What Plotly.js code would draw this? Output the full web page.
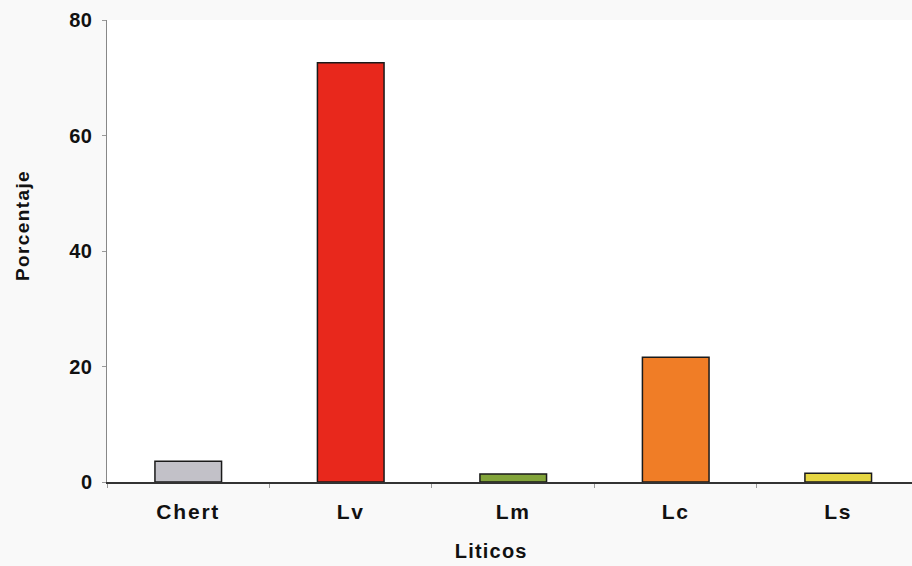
<!DOCTYPE html>
<html>
<head>
<meta charset="utf-8">
<script src="https://cdn.plot.ly/plotly-3.0.1.min.js"></script>
<style>
html,body{margin:0;padding:0;background:#f9f9f9;}
#chart{width:912px;height:566px;}
.xtick text{letter-spacing:1.8px;}
.ytick text{letter-spacing:0.5px;}
.annotation-text.xt{letter-spacing:1.2px;}
.annotation-text.yt{letter-spacing:1.4px;}
</style>
</head>
<body>
<div id="chart"></div>
<script>
const categories = ["Chert", "Lv", "Lm", "Lc", "Ls"];
const percentages = [3.6, 72.6, 1.4, 21.6, 1.5];
const barColors = ["#c2c1c8", "#e8281c", "#82a43a", "#f07d26", "#e6d642"];
const yTickValues = [0, 20, 40, 60, 80];
const xTitle = "Liticos";
const yTitle = "Porcentaje";

const fam = "Liberation Sans, Arial, sans-serif";

const trace = {
  type: "bar",
  x: categories,
  y: percentages,
  width: 0.41,
  marker: {color: barColors, line: {color: "#1a1a1a", width: 1.5}},
  hoverinfo: "x+y"
};

const layout = {
  width: 912, height: 566,
  margin: {l: 107, r: 0, t: 20, b: 84},
  paper_bgcolor: "#f9f9f9",
  plot_bgcolor: "#ffffff",
  font: {family: fam, size: 17, color: "#111"},
  showlegend: false,
  xaxis: {
    type: "category",
    range: [-0.5, 4.454],
    showline: true, linecolor: "#333", linewidth: 1.5,
    ticks: "outside", tickson: "boundaries", ticklen: 4, tickcolor: "#999",
    ticklabelstandoff: 10,
    tickfont: {family: fam, size: 21, weight: "bold", color: "#111"},
    showgrid: false, zeroline: false
  },
  yaxis: {
    range: [0, 80],
    tickvals: yTickValues,
    showline: true, linecolor: "#888", linewidth: 1.5, mirror: true,
    ticks: "outside", ticklen: 4, tickcolor: "#999",
    ticklabelstandoff: 5,
    tickfont: {family: fam, size: 20, weight: "bold", color: "#111"},
    showgrid: false, zeroline: false
  },
  annotations: [
    {text: xTitle, xref: "paper", yref: "paper", x: 0.477, y: -0.149,
     xanchor: "center", yanchor: "middle", showarrow: false,
     font: {family: fam, size: 20, weight: "bold", color: "#111"}},
    {text: yTitle, xref: "paper", yref: "paper", x: -0.1056, y: 0.556,
     xanchor: "center", yanchor: "middle", showarrow: false, textangle: -90,
     font: {family: fam, size: 19, weight: "bold", color: "#111"}}
  ]
};

Plotly.newPlot("chart", [trace], layout, {displayModeBar: false, staticPlot: true}).then(function(){
  const ann = document.querySelectorAll(".annotation-text");
  if (ann[0]) ann[0].classList.add("xt");
  if (ann[1]) ann[1].classList.add("yt");
});
</script>
</body>
</html>
